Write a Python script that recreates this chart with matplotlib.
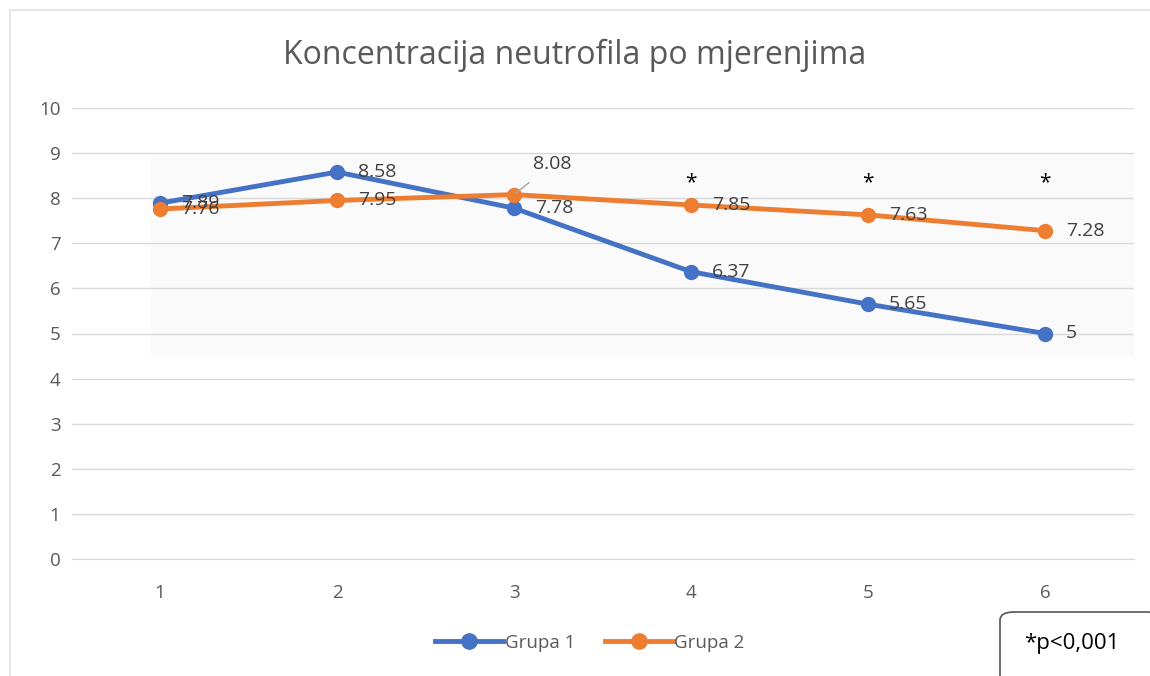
import matplotlib.pyplot as plt
from matplotlib.patches import FancyBboxPatch, Rectangle

mjerenja = [1, 2, 3, 4, 5, 6]
grupa1 = [7.89, 8.58, 7.78, 6.37, 5.65, 5]
grupa2 = [7.76, 7.95, 8.08, 7.85, 7.63, 7.28]
grupa1_labels = ["7.89", "8.58", "7.78", "6.37", "5.65", "5"]
grupa2_labels = ["7.76", "7.95", "8.08", "7.85", "7.63", "7.28"]
signif = [4, 5, 6]

BLUE = "#4472C4"
ORANGE = "#ED7D31"
TXT = "#595959"
GRID = "#D9D9D9"

plt.rcParams["font.family"] = ["Open Sans", "DejaVu Sans"]

fig = plt.figure(figsize=(11.5, 6.76), dpi=100, facecolor="white")

# outer chart border
fig.patches.append(Rectangle((10 / 1150, -0.05), 1.2, 1 - 10 / 676 + 0.05, transform=fig.transFigure,
                             facecolor="none", edgecolor="#E6E6E6", linewidth=1.5))

ax = fig.add_axes([71.5 / 1150, 117 / 676, 1062 / 1150, 451 / 676])
ax.set_xlim(0.5, 6.5)
ax.set_ylim(0, 10)
ax.set_yticks(range(0, 11))
ax.set_xticks(mjerenja)
ax.grid(axis="y", color=GRID, linewidth=1)
ax.set_axisbelow(True)
for s in ["top", "right", "left"]:
    ax.spines[s].set_visible(False)
ax.spines["bottom"].set_color(GRID)
ax.tick_params(length=0, labelsize=13.5, colors=TXT)
ax.tick_params(axis="x", pad=18)
ax.tick_params(axis="y", pad=8)

# faint shaded band from scan
ax.add_patch(Rectangle((0.95, 4.5), 5.55, 4.5, facecolor="#FAFAFA", edgecolor="none", zorder=0))

ax.plot(mjerenja, grupa1, color=BLUE, linewidth=3.5, marker="o", markersize=10, label="Grupa 1", zorder=3)
ax.plot(mjerenja, grupa2, color=ORANGE, linewidth=3.5, marker="o", markersize=10, label="Grupa 2", zorder=4)

for i, (x, y, t) in enumerate(zip(mjerenja, grupa1, grupa1_labels)):
    ax.annotate(t, (x, y), xytext=(15, 0), textcoords="offset points", ha="left", va="center",
                fontsize=14, color="#404040", zorder=5)
for i, (x, y, t) in enumerate(zip(mjerenja, grupa2, grupa2_labels)):
    if i == 2:
        ax.annotate(t, (x, y), xytext=(14, 22), textcoords="offset points", ha="left", va="center",
                    fontsize=14, color="#404040", zorder=5,
                    arrowprops=dict(arrowstyle="-", color="#A6A6A6", linewidth=1,
                                    shrinkA=8, shrinkB=2))
    else:
        ax.annotate(t, (x, y), xytext=(15, 0), textcoords="offset points", ha="left", va="center",
                    fontsize=14, color="#404040", zorder=5)

for x in signif:
    ax.text(x, 8.35, "*", ha="center", va="center", fontsize=15, color="black")

fig.text(0.5, 1 - 55 / 676, "Koncentracija neutrofila po mjerenjima", ha="center", va="center",
         fontsize=23, color=TXT)

leg = fig.legend(loc="center", bbox_to_anchor=(590 / 1150, 1 - 643 / 676), ncol=2, frameon=False,
                 fontsize=13.5, handlelength=3.6, columnspacing=1.6, handletextpad=0.1,
                 markerscale=1.1)
for t in leg.get_texts():
    t.set_color(TXT)

# p-value box
fig.patches.append(FancyBboxPatch((1000 / 1150, -0.05), 160 / 1150, (676 - 612) / 676 + 0.05,
                                  boxstyle="round,pad=0,rounding_size=0.012",
                                  transform=fig.transFigure, facecolor="white",
                                  edgecolor="#555555", linewidth=1.2))
fig.text(1072 / 1150, 1 - 643 / 676, "*p<0,001", ha="center", va="center", fontsize=16, color="black")

fig.savefig("out.png", dpi=100, facecolor="white")
